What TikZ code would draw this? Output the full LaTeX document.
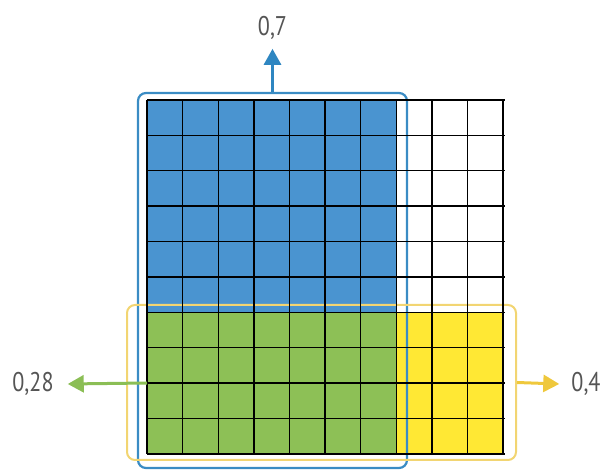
\documentclass[tikz,border=0pt]{standalone}
\usepackage{fontspec}
\setmainfont{PT Sans}
\usepackage{xcolor}
\usetikzlibrary{arrows.meta}

\definecolor{cellblue}{HTML}{4A94D0}
\definecolor{cellgreen}{HTML}{8DC056}
\definecolor{cellyellow}{HTML}{FFE834}
\definecolor{frameblue}{HTML}{3A8CC4}
\definecolor{frameyellow}{HTML}{F2D572}
\definecolor{arrowblue}{HTML}{2E86C1}
\definecolor{arrowgreen}{HTML}{8BBE55}
\definecolor{arrowyellow}{HTML}{EFC83C}
\definecolor{labelgray}{HTML}{555555}

\tikzset{
  valuelabel/.style={text=labelgray, inner sep=0pt, xscale=0.82,
    font=\fontsize{27}{27}\selectfont},
  partarrow/.style={line width=3pt, -{Triangle[width=17pt,length=16pt]}},
}

\begin{document}
\begin{tikzpicture}[x=1pt, y=-1pt]
\def\gl{147}     
\def\gt{100}
\def\cw{35.6}
\def\ch{35.4}

\useasboundingbox (0,0) rectangle (606,470);

% colored parts of the square
\fill[cellblue] (\gl,\gt) rectangle ({\gl+7*\cw},{\gt+6*\ch});
\fill[cellgreen] (\gl,{\gt+6*\ch}) rectangle ({\gl+7*\cw},{\gt+10*\ch});
\fill[cellyellow] ({\gl+7*\cw},{\gt+6*\ch}) rectangle ({\gl+10*\cw},{\gt+10*\ch});

% frames
\node[draw=frameblue, line width=2.2pt, rounded corners=8pt,
  minimum width=269pt, minimum height=375pt, inner sep=0pt]
  (blueframe) at (272.5,280.5) {};
\node[draw=frameyellow, line width=2pt, rounded corners=8pt,
  minimum width=389pt, minimum height=155pt, inner sep=0pt]
  (yellowframe) at (321.5,382.5) {};

% grid lines
\foreach \k in {0,...,10} {
    \draw[black, line width=1.4pt] ({\gl+\k*\cw},\gt) -- ({\gl+\k*\cw},{\gt+10*\ch});
    \draw[black, line width=1.4pt] (\gl,{\gt+\k*\ch}) -- ({\gl+10*\cw+2},{\gt+\k*\ch});
}

% values
\node[valuelabel] (lbl07) at (272.5,28) {0,7};
\node[valuelabel] (lbl028) at (33,384) {0,28};
\node[valuelabel] (lbl04) at (586,384) {0,4};

\coordinate (greenstart) at (\gl,383);

\draw[partarrow, arrowblue] (blueframe.north) -- ([yshift=-9pt]lbl07.south);
\draw[partarrow, arrowgreen] (greenstart) -- ([xshift=14pt]lbl028.east);
\draw[partarrow, arrowyellow] (yellowframe.east) -- ([xshift=-12pt]lbl04.west);
\end{tikzpicture}
\end{document}
